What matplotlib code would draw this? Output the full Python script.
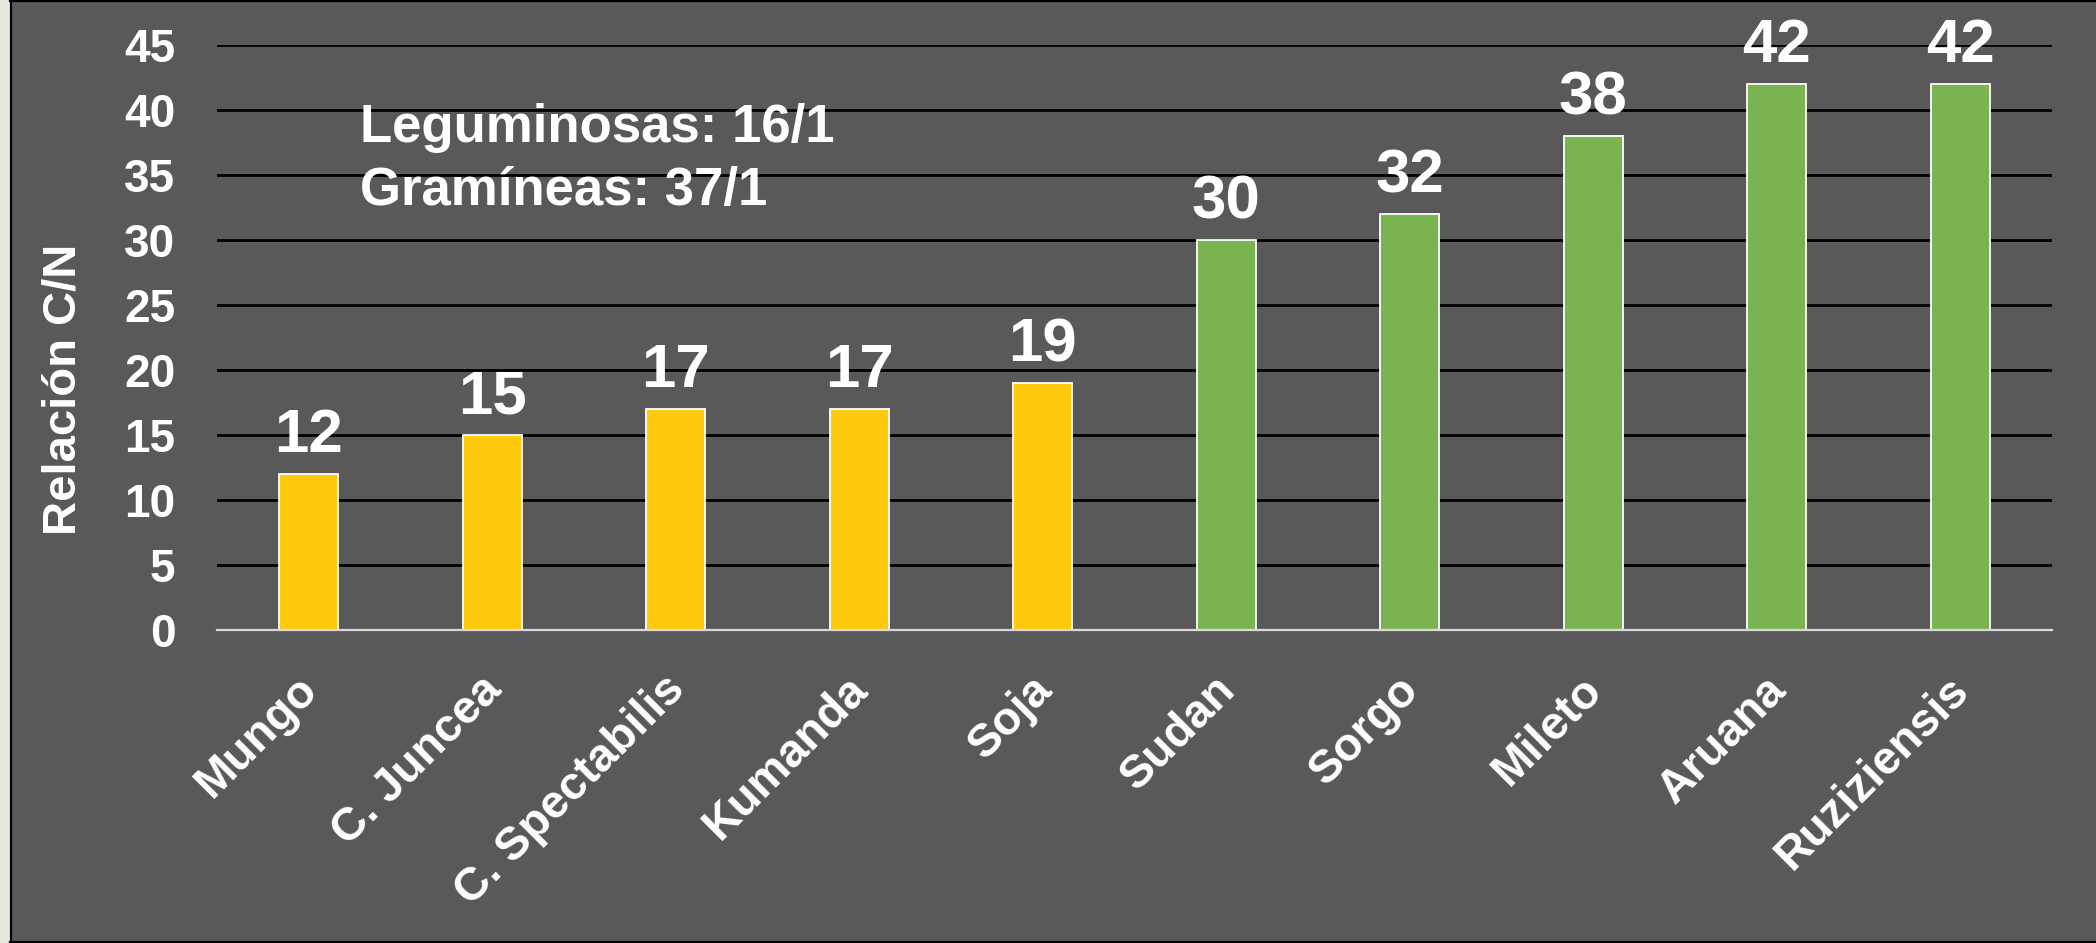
import matplotlib.pyplot as plt
from matplotlib.patches import Rectangle
from matplotlib.lines import Line2D
from matplotlib.transforms import ScaledTranslation

# Datos
especies = ["Mungo", "C. Juncea", "C. Spectabilis", "Kumanda", "Soja",
            "Sudan", "Sorgo", "Mileto", "Aruana", "Ruziziensis"]
relacion_cn = [12, 15, 17, 17, 19, 30, 32, 38, 42, 42]
grupo = ["leg", "leg", "leg", "leg", "leg", "gram", "gram", "gram", "gram", "gram"]
resumen = ["Leguminosas: 16/1", "Gramíneas: 37/1"]
yticks = [0, 5, 10, 15, 20, 25, 30, 35, 40, 45]

colores = {"leg": "#FFC90E", "gram": "#7AB451"}
fondo = "#595959"

plt.rcParams["font.family"] = ["Liberation Sans", "DejaVu Sans"]
plt.rcParams["font.weight"] = "bold"

W, H = 2096, 943
fig = plt.figure(figsize=(W / 100, H / 100), dpi=100, facecolor=fondo)

# borde izquierdo claro y marco negro
fig.patches.append(Rectangle((0, 0), 10 / W, 1, transform=fig.transFigure,
                             facecolor="#E9E7E1", edgecolor="none", zorder=0))
for xs, ys in [([10.5 / W, 10.5 / W], [0, 1]),
               ([10 / W, 1], [1 - 1 / H, 1 - 1 / H]),
               ([10 / W, 1], [1.5 / H, 1.5 / H])]:
    fig.add_artist(Line2D(xs, ys, transform=fig.transFigure, color="black", lw=1.6))

ax = fig.add_axes([217 / W, (H - 630) / H, (2052 - 217) / W, (630 - 45) / H])
ax.set_facecolor(fondo)

x = range(len(especies))
barras = ax.bar(x, relacion_cn, width=0.32,
                color=[colores[g] for g in grupo],
                edgecolor="white", linewidth=1.3, zorder=3)

# etiquetas de valores
for xi, v in zip(x, relacion_cn):
    ax.annotate(str(v), (xi, v), xytext=(0, 15.5), textcoords="offset points",
                ha="center", va="baseline", color="white", fontsize=44.5,
                fontweight="bold")

ax.set_xlim(-0.5, len(especies) - 0.5)
ax.set_ylim(0, 45)
ax.set_yticks(yticks)
ax.tick_params(axis="y", length=0, pad=30, labelsize=33, labelcolor="white")
ax.set_xticks(list(x))
ax.set_xticklabels(especies, rotation=45, ha="right", va="top")
ax.tick_params(axis="x", length=0, pad=27, labelsize=33.5, labelcolor="white")
desplaza = ScaledTranslation(18 / 100, 0, fig.dpi_scale_trans)
for lbl in ax.get_xticklabels():
    lbl.set_transform(lbl.get_transform() + desplaza)

ax.set_axisbelow(True)
ax.yaxis.grid(True, color="black", linewidth=2.0)
for s in ["left", "right", "top"]:
    ax.spines[s].set_visible(False)
ax.spines["bottom"].set_color("#D9D9D9")
ax.spines["bottom"].set_linewidth(1.6)
ax.spines["bottom"].set_zorder(4)

# título del eje y
fig.text(64 / W, (H - 389) / H, "Relación C/N", rotation=90, ha="center",
         va="center", color="white", fontsize=34, fontweight="bold")

# resumen
fig.text(360 / W, (H - 142) / H, resumen[0], ha="left", va="baseline",
         color="white", fontsize=38, fontweight="bold")
fig.text(360 / W, (H - 205) / H, resumen[1], ha="left", va="baseline",
         color="white", fontsize=38, fontweight="bold")

fig.savefig("out.png", dpi=100, facecolor=fondo)
